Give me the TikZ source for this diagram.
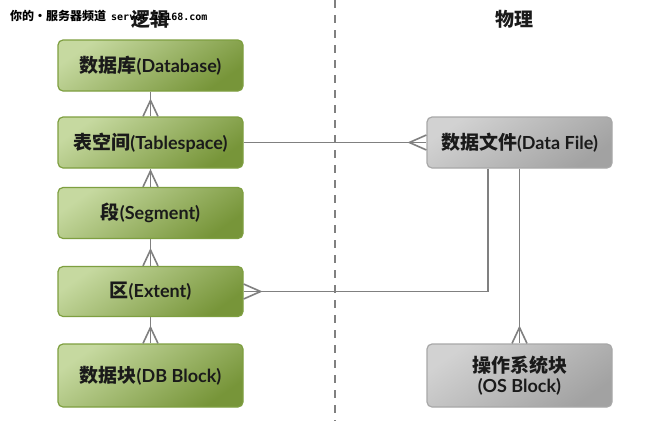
\documentclass[tikz,border=0pt]{standalone}
\usepackage{fontspec}
\setmainfont{Carlito}
\newfontfamily\lat{Lato}
\newfontfamily\cjk{Noto Sans CJK SC}
\newfontfamily\wmmono{DejaVu Sans Mono}
\usetikzlibrary{calc}
\definecolor{glight}{HTML}{C6D9A0}
\definecolor{gmid}{HTML}{ADC57A}
\definecolor{gdark}{HTML}{779539}
\definecolor{gborder}{HTML}{7E9F40}
\definecolor{ylight}{HTML}{D2D2D2}
\definecolor{ymid}{HTML}{C0C0C0}
\definecolor{ydark}{HTML}{A2A2A2}
\definecolor{yborder}{HTML}{A8A8A8}
\definecolor{lineg}{HTML}{808080}
\definecolor{txt}{HTML}{1A1A1A}
\newcommand\crowN[1]{\draw[conn] ([xshift=-7.5pt]#1.north) -- ([yshift=16pt]#1.north) -- ([xshift=7.5pt]#1.north);}
\newcommand\zh[1]{{\cjk\bfseries\fontsize{19}{20}\selectfont #1}}
\begin{document}
\begin{tikzpicture}[x=1pt,y=-1pt,
  box/.style={rounded corners=5pt, minimum width=185pt, inner sep=0pt, align=center,
    text=txt, font=\lat\bfseries\fontsize{18}{20}\selectfont, line width=1.2pt},
  gbox/.style={box, draw=gborder, top color=glight, middle color=gmid, bottom color=gdark, shading angle=35},
  ybox/.style={box, draw=yborder, top color=ylight, middle color=ymid, bottom color=ydark, shading angle=35},
  conn/.style={draw=lineg, line width=1.6pt},
  divider/.style={draw=lineg, line width=1.8pt, dash pattern=on 7.5pt off 7.5pt},
  head/.style={font=\cjk\bfseries\fontsize{19}{19}\selectfont, text=txt, inner sep=0pt}
]
\useasboundingbox (0,0) rectangle (670,421);
\fill[white] (0,0) rectangle (670,421);

% divider
\coordinate (dtop) at (335,0);
\coordinate (dbot) at (335,421);
\draw[divider] (dtop) -- (dbot);

% headers
\node[head] (hl) at (150,19) {逻辑};
\node[head] (hr) at (514,19) {物理};

% watermark
\node[anchor=west, inner sep=0pt, text=black] (wm) at (10,16)
  {{\cjk\bfseries\fontsize{12}{12}\selectfont 你的·服务器频道}\hspace{5pt}{\wmmono\bfseries\fontsize{10}{10}\selectfont server.it168.com}};

% logical
\node[gbox, minimum height=51pt] (db) at (150.5,65.5) {\zh{数据库}(Database)};
\node[gbox, minimum height=51pt] (ts) at (150.5,142.5) {\zh{表空间}(Tablespace)};
\node[gbox, minimum height=51pt] (sg) at (150.5,213) {\zh{段}(Segment)};
\node[gbox, minimum height=50pt] (ex) at (150.5,291.5) {\zh{区}(Extent)};
\node[gbox, minimum height=63pt] (bk) at (150.5,375.5) {\zh{数据块}(DB Block)};

% physical
\node[ybox, minimum height=51pt] (df) at (519.5,142.5) {\zh{数据文件}(Data File)};
\node[ybox, minimum height=63pt] (os) at (519.5,375.5) {\zh{操作系统块}\\(OS Block)};

% vertical logical connectors
\draw[conn] (db.south) -- (ts.north); \crowN{ts}
\draw[conn] (ts.south) -- (sg.north); \crowN{sg}
\draw[conn] (sg.south) -- (ex.north); \crowN{ex}
\draw[conn] (ex.south) -- (bk.north); \crowN{bk}

% tablespace - data file
\draw[conn] (ts.east) -- (df.west);
\draw[conn] ([yshift=7.5pt]df.west) -- ([xshift=-17pt]df.west) -- ([yshift=-7.5pt]df.west);

% data file - extent
\draw[conn] ([xshift=-31.5pt]df.south) |- (ex.east);
\draw[conn] ([yshift=7.5pt]ex.east) -- ([xshift=17pt]ex.east) -- ([yshift=-7.5pt]ex.east);

% data file - os block
\draw[conn] (df.south) -- (os.north); \crowN{os}
\end{tikzpicture}
\end{document}
